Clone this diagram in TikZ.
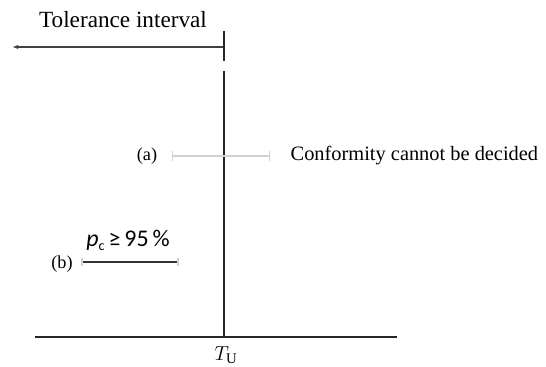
\documentclass[tikz,border=0pt]{standalone}
\usepackage{fontspec}
\setmainfont{Liberation Serif}
\newfontfamily\calfont{Carlito}
\usepackage{xcolor}
\usepackage{tikz}
\usetikzlibrary{positioning,arrows.meta}

\begin{document}
\begin{tikzpicture}[x=0.025cm, y=-0.025cm, every node/.style={font=\fontsize{14.5}{16}\selectfont, inner sep=1pt}]
\useasboundingbox (0,0) rectangle (546,367);
\coordinate (tolL) at (13,47);
\coordinate (tolR) at (224,47);
\coordinate (limTop) at (224,71);
\coordinate (limBot) at (224,337);
\coordinate (baseL) at (35,337);
\coordinate (baseR) at (397,337);
\node[font=\fontsize{16.5}{18}\selectfont] (tol) at (123,20) {Tolerance interval};
\draw[{Stealth[length=4pt,width=3pt]}-, line width=1pt, black!75] (tolL) -- (tolR);
\draw[line width=1pt, black!85] (224,31) -- (224,61);
\draw[line width=1pt, black!85] (limTop) -- (limBot);
\draw[line width=1pt, black!85] (baseL) -- (baseR);
\node[font=\fontsize{15}{16}\selectfont] (tu) at (226,355) {$T_{\mathrm{U}}$};
% (a)
\node[font=\fontsize{13}{14}\selectfont] (a) at (147,156) {(a)};
\coordinate (aL) at (172,156);
\coordinate (aR) at (270,156);
\draw[black!18, line width=0.8pt, {Bar[width=7pt]}-{Bar[width=7pt]}] (aL) -- (aR);
\node[anchor=west] (cannot) at (289,156) {Conformity cannot be decided};
% (b)
\node[font=\fontsize{13}{14}\selectfont] (b) at (62,264) {(b)};
\coordinate (bL) at (82,262);
\coordinate (bR) at (178,262);
\draw[black!80, line width=1pt] (bL) -- (bR);
\draw[black!18, line width=0.8pt] (82,258) -- (82,266) (178,258) -- (178,266);
\node[font=\calfont\fontsize{17}{19}\selectfont] (pc) at (128,240) {\textit{p}\raisebox{-0.35ex}{\fontsize{10}{11}\selectfont c}\,≥\,95\,\%};
\end{tikzpicture}
\end{document}
